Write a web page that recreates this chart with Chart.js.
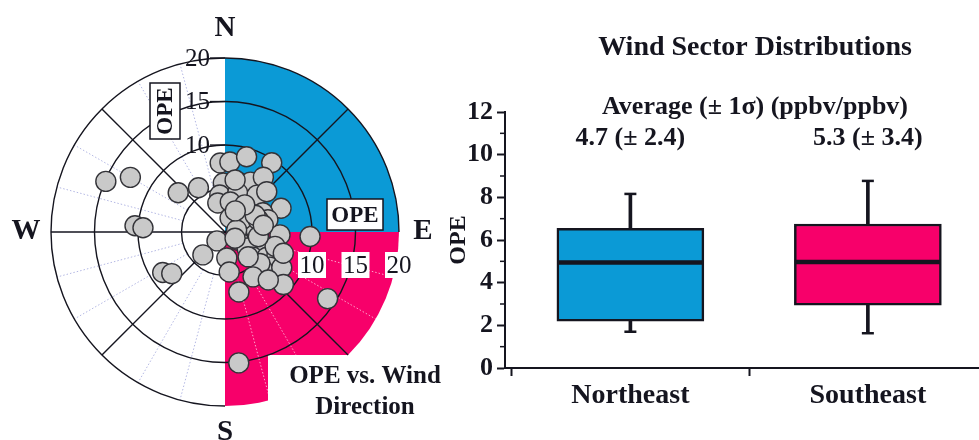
<!DOCTYPE html>
<html><head><meta charset="utf-8">
<script src="https://cdn.jsdelivr.net/npm/chart.js@4.4.1/dist/chart.umd.min.js"></script>
<style>
html,body{margin:0;padding:0;background:#fff;width:979px;height:440px;overflow:hidden;position:relative}
#polar{position:absolute;left:0;top:0}
#box{position:absolute;left:440px;top:0}
</style></head><body>
<canvas id="polar" width="460" height="440"></canvas>
<canvas id="box" width="539" height="440"></canvas>
<script>
// ---------- DATA ----------
// Polar scatter: wind direction (deg from N, clockwise) and OPE
const windDirection = [356,4,16,34,358,15,27,35,352,18,41,46,346,10,67,20,54,63,74,72,86,93,222,122,109,126,224,176,132,121,114,121,128,135,122,174,132,167,93,123,174,293,300,310,329,274,273,237,232,54,70,80,132,11,61,122,148,137,106,110,138,98,80,36,26];
const opeValue      = [7.95,8.07,9.0,9.6,5.64,5.94,6.43,7.69,4.29,4.72,5.62,6.67,3.43,3.5,7.0,1.71,3.29,4.88,5.13,1.82,3.57,6.33,1.38,1.76,4.62,3.13,3.66,3.0,4.31,5.62,6.54,7.37,6.55,6.18,7.69,4.62,9.03,7.08,9.79,14.06,15.13,14.88,12.56,7.02,5.93,10.37,9.44,8.54,7.77,2.36,4.07,1.36,5.4,6.09,3.96,1.36,6.08,3.9,5.99,7.13,7.43,3.87,4.47,3.86,2.7];
const radialRings   = [5,10,15,20];
const radialLabels  = [10,15,20];
const compass       = ['N','E','S','W'];

// Box plot per wind sector
const categories  = ['Northeast','Southeast'];
const q1          = [2.2, 2.95];
const q3          = [6.55, 6.75];
const medians     = [4.95, 4.97];
const whiskerLow  = [1.7, 1.63];
const whiskerHigh = [8.16, 8.77];
const averageText = ['4.7 (\u00b1 2.4)', '5.3 (\u00b1 3.4)'];
const yTickValues = [0,2,4,6,8,10,12];

// ---------- STYLE ----------
const SERIF = "'Liberation Serif','Times New Roman',serif";
const BLUE = '#0b9ad6';
const PINK = '#f7006a';
const INK = '#15151f';

// ---------- POLAR CHART ----------
const rad = d => d * Math.PI / 180;
const polarPoints = windDirection.map((d, i) => ({
  x: opeValue[i] * Math.sin(rad(d)),
  y: opeValue[i] * Math.cos(rad(d))
}));

const polarDecor = {
  id: 'polarDecor',
  beforeDatasetsDraw(chart) {
    const {ctx} = chart;
    const sx = chart.scales.x, sy = chart.scales.y;
    const cx = sx.getPixelForValue(0), cy = sy.getPixelForValue(0);
    const rp = v => sx.getPixelForValue(v) - cx;
    const R = rp(20);
    const ca = d => rad(d - 90);
    ctx.save();
    // sectors
    ctx.fillStyle = BLUE;
    ctx.beginPath(); ctx.moveTo(cx, cy); ctx.arc(cx, cy, R, ca(0), ca(90)); ctx.closePath(); ctx.fill();
    ctx.fillStyle = PINK;
    ctx.beginPath(); ctx.moveTo(cx, cy); ctx.arc(cx, cy, R, ca(90), ca(180)); ctx.closePath(); ctx.fill();
    // dotted radial guides
    ctx.lineWidth = 1;
    ctx.setLineDash([1.5, 2]);
    for (let d = 105; d < 360; d += 15) {
      if (d % 45 === 0) continue;
      ctx.strokeStyle = d < 180 ? 'rgba(255,190,220,0.85)' : '#b3b7e3';
      ctx.beginPath();
      ctx.moveTo(cx + rp(5) * Math.cos(ca(d)), cy + rp(5) * Math.sin(ca(d)));
      ctx.lineTo(cx + R * Math.cos(ca(d)), cy + R * Math.sin(ca(d)));
      ctx.stroke();
    }
    ctx.setLineDash([]);
    // white caption background
    ctx.fillStyle = '#fff';
    ctx.fillRect(cx + 43, cy + 123, 200, 100);
    // rings
    ctx.strokeStyle = INK;
    ctx.lineWidth = 1.4;
    radialRings.forEach(v => {
      ctx.beginPath();
      if (v === 20) ctx.arc(cx, cy, rp(v), ca(180), ca(450));
      else ctx.arc(cx, cy, rp(v), 0, Math.PI * 2);
      ctx.stroke();
    });
    // solid radial lines
    [45, 135, 225, 270, 315].forEach(d => {
      ctx.beginPath();
      ctx.moveTo(cx, cy);
      ctx.lineTo(cx + R * Math.cos(ca(d)), cy + R * Math.sin(ca(d)));
      ctx.stroke();
    });
    ctx.restore();
  },
  afterDatasetsDraw(chart) {
    const {ctx} = chart;
    const sx = chart.scales.x, sy = chart.scales.y;
    const cx = sx.getPixelForValue(0), cy = sy.getPixelForValue(0);
    const rp = v => sx.getPixelForValue(v) - cx;
    const R = rp(20);
    ctx.save();
    ctx.fillStyle = INK;
    ctx.textAlign = 'center'; ctx.textBaseline = 'middle';
    // compass letters
    ctx.font = `bold 29px ${SERIF}`;
    ctx.fillText(compass[0], cx, cy - R - 29);
    ctx.fillText(compass[1], cx + R + 24, cy);
    ctx.fillText(compass[2], cx, cy + R + 27);
    ctx.fillText(compass[3], cx - R - 25, cy);
    // radial labels on N axis
    ctx.font = `25px ${SERIF}`;
    ctx.strokeStyle = INK; ctx.lineWidth = 1.3;
    radialLabels.forEach(v => {
      const y = cy - rp(v);
      ctx.textAlign = 'right';
      ctx.fillText(String(v), cx - 15, y + 1);
      ctx.beginPath(); ctx.moveTo(cx - 15, y); ctx.lineTo(cx, y); ctx.stroke();
    });
    // radial labels on E axis (white boxes)
    ctx.textAlign = 'center';
    radialLabels.forEach(v => {
      const x = cx + rp(v), y = cy + 33;
      ctx.fillStyle = '#fff';
      ctx.fillRect(x - 14, y - 13, 28, 26);
      ctx.fillStyle = INK;
      ctx.fillText(String(v), x, y + 1);
    });
    // OPE boxed labels
    ctx.font = `bold 23px ${SERIF}`;
    ctx.lineWidth = 1.5;
    ctx.fillStyle = '#fff';
    ctx.fillRect(cx + 102, cy - 33, 56, 31);
    ctx.strokeRect(cx + 102, cy - 33, 56, 31);
    ctx.fillStyle = INK;
    ctx.fillText('OPE', cx + 130, cy - 16);
    ctx.save();
    ctx.translate(cx - 60, cy - 121);
    ctx.rotate(-Math.PI / 2);
    ctx.fillStyle = '#fff';
    ctx.fillRect(-28, -15, 56, 30);
    ctx.strokeRect(-28, -15, 56, 30);
    ctx.fillStyle = INK;
    ctx.fillText('OPE', 0, 1);
    ctx.restore();
    // caption
    ctx.font = `bold 25px ${SERIF}`;
    ctx.fillText('OPE vs. Wind', cx + 140, cy + 145);
    ctx.fillText('Direction', cx + 140, cy + 176);
    ctx.restore();
  }
};

new Chart(document.getElementById('polar'), {
  type: 'scatter',
  data: {datasets: [{
    data: polarPoints,
    pointRadius: 10,
    pointHoverRadius: 10,
    backgroundColor: '#c9c9c9',
    borderColor: '#333338',
    borderWidth: 1.4
  }]},
  options: {
    responsive: false, animation: false, devicePixelRatio: 1,
    layout: {padding: {left: 51, right: 61, top: 58, bottom: 34}},
    plugins: {legend: {display: false}, tooltip: {enabled: false}},
    scales: {
      x: {type: 'linear', min: -20, max: 20, display: false},
      y: {type: 'linear', min: -20, max: 20, display: false}
    },
    clip: false
  },
  plugins: [polarDecor]
});

// ---------- BOX CHART ----------
const boxDecor = {
  id: 'boxDecor',
  afterDatasetsDraw(chart) {
    const {ctx} = chart;
    const sx = chart.scales.x, sy = chart.scales.y;
    ctx.save();
    ctx.strokeStyle = INK;
    ctx.lineWidth = 4.5;
    categories.forEach((c, i) => {
      const x = sx.getPixelForValue(i), y = sy.getPixelForValue(medians[i]);
      ctx.beginPath(); ctx.moveTo(x - 73, y); ctx.lineTo(x + 73, y); ctx.stroke();
    });
    ctx.lineWidth = 2.5;
    categories.forEach((c, i) => {
      const x = sx.getPixelForValue(i);
      [whiskerLow[i], whiskerHigh[i]].forEach(v => {
        const y = sy.getPixelForValue(v);
        ctx.beginPath(); ctx.moveTo(x - 6, y); ctx.lineTo(x + 6, y); ctx.stroke();
      });
    });
    ctx.lineWidth = 1.5;
    for (let v = 1; v < 12; v += 2) {
      const y = sy.getPixelForValue(v);
      ctx.beginPath(); ctx.moveTo(chart.chartArea.left - 5, y); ctx.lineTo(chart.chartArea.left, y); ctx.stroke();
    }
    ctx.fillStyle = INK;
    ctx.textAlign = 'center'; ctx.textBaseline = 'middle';
    ctx.font = `bold 28px ${SERIF}`;
    ctx.fillText('Wind Sector Distributions', 315, 48);
    ctx.font = `bold 26px ${SERIF}`;
    ctx.fillText('Average (\u00b1 1\u03c3) (ppbv/ppbv)', 315, 107);
    categories.forEach((c, i) => {
      ctx.fillText(averageText[i], sx.getPixelForValue(i), 138);
    });
    ctx.restore();
  }
};

new Chart(document.getElementById('box'), {
  type: 'bar',
  data: {datasets: [
    {
      label: 'IQR',
      data: categories.map((c, i) => ({x: i, y: [q1[i], q3[i]]})),
      backgroundColor: [BLUE, PINK],
      borderColor: INK, borderWidth: 2.5, borderSkipped: false,
      barThickness: 147, order: 0
    },
    {
      label: 'lower whisker',
      data: categories.map((c, i) => ({x: i, y: [whiskerLow[i], q1[i]]})),
      backgroundColor: INK, borderWidth: 0, barThickness: 3, order: 1
    },
    {
      label: 'upper whisker',
      data: categories.map((c, i) => ({x: i, y: [q3[i], whiskerHigh[i]]})),
      backgroundColor: INK, borderWidth: 0, barThickness: 3, order: 1
    }
  ]},
  options: {
    responsive: false, animation: false, devicePixelRatio: 1,
    datasets: {bar: {grouped: false}},
    layout: {padding: {top: 112, right: 0, left: 0, bottom: 0}},
    plugins: {legend: {display: false}, tooltip: {enabled: false}},
    scales: {
      x: {
        type: 'linear', min: -0.528, max: 1.468, offset: false,
        afterBuildTicks: s => { s.ticks = [-0.5, 0, 0.5, 1].map(v => ({value: v})); },
        afterFit: s => { s.height = 72; },
        ticks: {
          autoSkip: false, maxRotation: 0, padding: 3, color: INK,
          font: {family: SERIF, size: 28, weight: 'bold'},
          callback: v => Number.isInteger(v) ? categories[v] : ''
        },
        grid: {
          offset: false, drawOnChartArea: false, tickLength: 8, tickWidth: 2,
          tickColor: c => (c.tick && Number.isInteger(c.tick.value)) ? 'rgba(0,0,0,0)' : INK
        },
        border: {display: true, color: INK, width: 2}
      },
      y: {
        min: 0, max: 12,
        afterBuildTicks: s => { s.ticks = yTickValues.map(v => ({value: v})); },
        afterFit: s => { s.width = 65; },
        ticks: {padding: 4, color: INK, font: {family: SERIF, size: 26, weight: 'bold'}},
        grid: {drawOnChartArea: false, tickLength: 8, tickWidth: 2, tickColor: INK},
        border: {display: true, color: INK, width: 2},
        title: {display: true, text: 'OPE', color: INK, padding: {top: 4, bottom: 0},
                font: {family: SERIF, size: 24, weight: 'bold'}}
      }
    }
  },
  plugins: [boxDecor]
});
</script>
</body></html>
